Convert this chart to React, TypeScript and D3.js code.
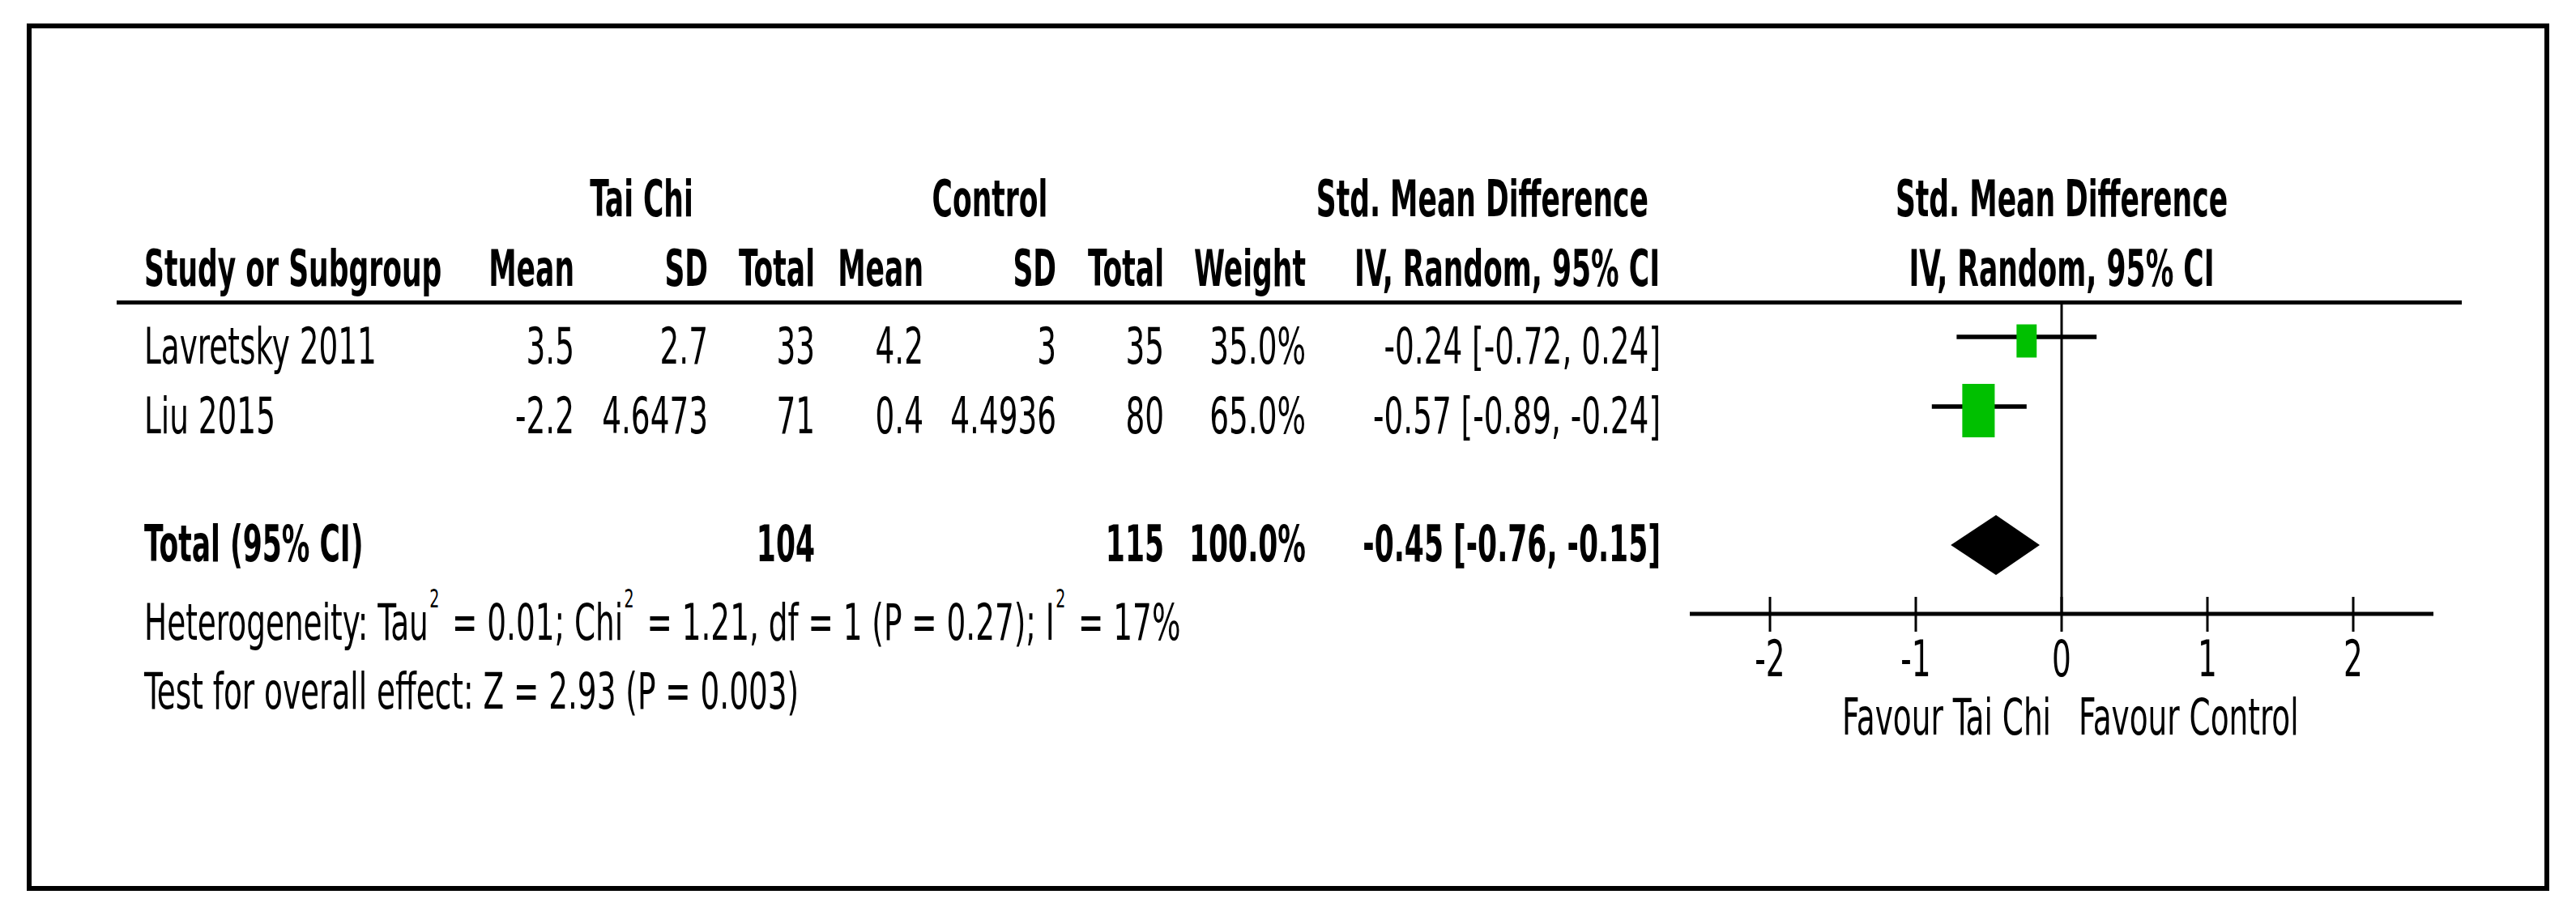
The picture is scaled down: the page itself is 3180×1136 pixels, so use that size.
import React from 'react';
import * as d3 from 'd3';

// study rows
const studies = ['Lavretsky 2011', 'Liu 2015'];
const taiChiMean = [3.5, -2.2];
const taiChiSD = [2.7, 4.6473];
const taiChiTotal = [33, 71];
const controlMean = [4.2, 0.4];
const controlSD = [3, 4.4936];
const controlTotal = [35, 80];
const weights = [35.0, 65.0];
const smd = [-0.24, -0.57];
const ciLow = [-0.72, -0.89];
const ciHigh = [0.24, -0.24];

// pooled
const pooledTotals = [104, 115];
const pooledWeight = 100.0;
const pooled = { est: -0.45, lo: -0.76, hi: -0.15 };

const ticks = [-2, -1, 0, 1, 2];
const favourLabels = ['Favour Tai Chi', 'Favour Control'];

const W = 3180;
const H = 1136;
const FONT = "'DejaVu Sans Condensed', 'DejaVu Sans', sans-serif";
const KR = 0.66; // horizontal squeeze, regular text
const KB = 0.61; // horizontal squeeze, bold text
const BOX = 0.607; // width/height ratio of the weight squares

// plain hyphen for negatives, like the original
const locale = d3.formatLocale({ decimal: '.', thousands: ',', grouping: [3], currency: ['', ''], minus: '-' });
const f2 = locale.format('.2f');
const f1 = locale.format('.1f');
const ci = (e: number, l: number, h: number) => `${f2(e)} [${f2(l)}, ${f2(h)}]`;

type TProps = {
  x: number;
  y: number;
  anchor?: 'start' | 'middle' | 'end';
  bold?: boolean;
  size?: number;
  children: React.ReactNode;
};

const T = ({ x, y, anchor = 'start', bold = false, size = 63, children }: TProps) => (
  <text
    transform={`translate(${x},${y}) scale(${bold ? KB : KR},1)`}
    textAnchor={anchor}
    fontWeight={bold ? 'bold' : 'normal'}
    fontSize={size}
    fontFamily={FONT}
    fill="#000"
  >
    {children}
  </text>
);

const Sup = ({ children }: { children: React.ReactNode }) => (
  <>
    <tspan dx={2} dy={-40} fontSize={32}>{children}</tspan>
    <tspan dx={6} dy={40}> </tspan>
  </>
);

export default function App() {
  const x = d3.scaleLinear().domain([-2, 2]).range([2185, 2905]);
  const size = d3.scaleLinear().domain([0, 100]).range([11.8, 95.1]);
  const rowBase = d3.scaleOrdinal<string, number>().domain(studies).range([449, 535]);

  // column right edges
  const col = { tcMean: 709, tcSD: 874, tcTot: 1006, cMean: 1140, cSD: 1304, cTot: 1437, wt: 1612, ci: 2050 };
  const leftX = 178;

  const axisY = 758;
  const zero = x(0);
  const diamondY = 673;
  const diamond = [
    [x(pooled.lo), diamondY],
    [x(pooled.est), diamondY - 37],
    [x(pooled.hi), diamondY],
    [x(pooled.est), diamondY + 37],
  ];

  return (
    <svg
      width={W}
      height={H}
      style={{ position: 'absolute', left: 0, top: 0, display: 'block', background: '#fff' }}
    >
      <rect x={0} y={0} width={W} height={H} fill="#fff" />
      <rect x={36} y={32} width={3108} height={1065} fill="none" stroke="#000" strokeWidth={6} />

      {/* header */}
      <T x={792} y={267} anchor="middle" bold>Tai Chi</T>
      <T x={1222} y={267} anchor="middle" bold>Control</T>
      <T x={2035} y={267} anchor="end" bold>Std. Mean Difference</T>
      <T x={zero} y={267} anchor="middle" bold>Std. Mean Difference</T>

      <T x={leftX} y={353} bold>Study or Subgroup</T>
      <T x={col.tcMean} y={353} anchor="end" bold>Mean</T>
      <T x={col.tcSD} y={353} anchor="end" bold>SD</T>
      <T x={col.tcTot} y={353} anchor="end" bold>Total</T>
      <T x={col.cMean} y={353} anchor="end" bold>Mean</T>
      <T x={col.cSD} y={353} anchor="end" bold>SD</T>
      <T x={col.cTot} y={353} anchor="end" bold>Total</T>
      <T x={col.wt} y={353} anchor="end" bold>Weight</T>
      <T x={2049} y={353} anchor="end" bold>IV, Random, 95% CI</T>
      <T x={zero} y={353} anchor="middle" bold>IV, Random, 95% CI</T>

      <line x1={144} x2={3039} y1={373.5} y2={373.5} stroke="#000" strokeWidth={5} />

      {/* zero line */}
      <line x1={zero} x2={zero} y1={374} y2={axisY} stroke="#000" strokeWidth={3} />

      {/* study rows */}
      {studies.map((s, i) => {
        const y = rowBase(s);
        const h = size(weights[i]);
        const w = h * BOX;
        return (
          <g key={s}>
            <T x={leftX} y={y}>{s}</T>
            <T x={col.tcMean} y={y} anchor="end">{String(taiChiMean[i])}</T>
            <T x={col.tcSD} y={y} anchor="end">{String(taiChiSD[i])}</T>
            <T x={col.tcTot} y={y} anchor="end">{String(taiChiTotal[i])}</T>
            <T x={col.cMean} y={y} anchor="end">{String(controlMean[i])}</T>
            <T x={col.cSD} y={y} anchor="end">{String(controlSD[i])}</T>
            <T x={col.cTot} y={y} anchor="end">{String(controlTotal[i])}</T>
            <T x={col.wt} y={y} anchor="end">{`${f1(weights[i])}%`}</T>
            <T x={col.ci} y={y} anchor="end">{ci(smd[i], ciLow[i], ciHigh[i])}</T>
            <line x1={x(ciLow[i])} x2={x(ciHigh[i])} y1={y - 33} y2={y - 33} stroke="#000" strokeWidth={5.5} />
            <rect x={x(smd[i]) - w / 2} y={y - 33 + 5 - h / 2} width={w} height={h} fill="#00C000" />
          </g>
        );
      })}

      {/* total row */}
      <T x={leftX} y={693} bold>Total (95% CI)</T>
      <T x={col.tcTot} y={693} anchor="end" bold>{String(pooledTotals[0])}</T>
      <T x={col.cTot} y={693} anchor="end" bold>{String(pooledTotals[1])}</T>
      <T x={col.wt} y={693} anchor="end" bold>{`${f1(pooledWeight)}%`}</T>
      <T x={col.ci} y={693} anchor="end" bold>{ci(pooled.est, pooled.lo, pooled.hi)}</T>
      <polygon points={diamond.map((p) => p.join(',')).join(' ')} fill="#000" />

      {/* heterogeneity */}
      <T x={leftX} y={790}>
        Heterogeneity: Tau<Sup>2</Sup>= 0.01; Chi<Sup>2</Sup>= 1.21, df = 1 (P = 0.27); I<Sup>2</Sup>= 17%
      </T>
      <T x={leftX} y={875}>Test for overall effect: Z = 2.93 (P = 0.003)</T>

      {/* axis */}
      <line x1={x(-2.55)} x2={x(2.55)} y1={axisY} y2={axisY} stroke="#000" strokeWidth={5} />
      {ticks.map((t) => (
        <g key={t}>
          <line x1={x(t)} x2={x(t)} y1={737} y2={780} stroke="#000" strokeWidth={3} />
          <T x={x(t)} y={835} anchor="middle">{String(t)}</T>
        </g>
      ))}
      <T x={zero - 13} y={907} anchor="end">{favourLabels[0]}</T>
      <T x={zero + 21} y={907}>{favourLabels[1]}</T>
    </svg>
  );
}
